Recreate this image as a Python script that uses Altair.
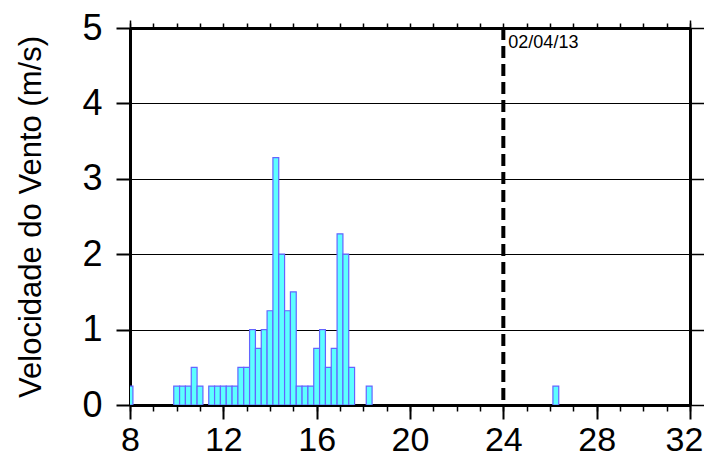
import altair as alt
import pandas as pd

# ---- data ----
hours = [8.0, 10.0, 10.25, 10.5, 10.75, 11.0, 11.5, 11.75, 12.0, 12.25, 12.5,
         12.75, 13.0, 13.25, 13.5, 13.75, 14.0, 14.25, 14.5, 14.75, 15.0,
         15.25, 15.5, 15.75, 16.0, 16.25, 16.5, 16.75, 17.0, 17.25, 17.5,
         18.25, 26.25]
speeds = [0.25, 0.25, 0.25, 0.25, 0.5, 0.25, 0.25, 0.25, 0.25, 0.25, 0.25,
          0.5, 0.5, 1.0, 0.75, 1.0, 1.25, 3.28, 2.0, 1.25, 1.5,
          0.25, 0.25, 0.25, 0.75, 1.0, 0.5, 0.75, 2.27, 2.0, 0.5,
          0.25, 0.25]
event_hour = [24]
event_top = [5]
event_label = ["02/04/13"]
x_major = [8, 12, 16, 20, 24, 28, 32]
x_minor = list(range(8, 33))
x_ends = [8, 32]
y_ticks = [0, 1, 2, 3, 4, 5]
y_title = "Velocidade do Vento (m/s)"

FONT = "Liberation Sans"
df = pd.DataFrame({"hora": hours, "vel": speeds})
ev = pd.DataFrame({"hora": event_hour, "top": event_top, "label": event_label})
minor_df = pd.DataFrame({"hora": x_minor})
yt_df = pd.DataFrame({"vel": y_ticks})

xs = alt.Scale(domain=[8, 32], nice=False, zero=False)
ys = alt.Scale(domain=[0, 5], nice=False)

FRAME = dict(domain=True, domainColor="black", domainWidth=3)

bars = alt.Chart(df).transform_calculate(
    x0="datum.hora - 0.125", x1="datum.hora + 0.125", base="0"
).mark_bar(fill="#5cffff", stroke="#6464ff", strokeWidth=1.2, clip=True).encode(
    x=alt.X("x0:Q", scale=xs, axis=alt.Axis(
        orient="bottom", values=x_major, tickSize=14, tickWidth=2, tickColor="black",
        grid=False, title=None, labelFont=FONT, labelFontSize=34,
        labelColor="black", labelPadding=4, labelFlush=False,
        labelOffset={"condition": {"test": "datum.value >= 32", "value": -6}, "value": 0},
        **FRAME)),
    x2="x1:Q",
    y=alt.Y("vel:Q", scale=ys, axis=alt.Axis(
        orient="left", values=y_ticks, tickSize=14, tickWidth=2, tickColor="black",
        grid=True, gridColor="black", gridWidth=1, gridOpacity=1,
        labelFont=FONT, labelFontSize=36, labelColor="black", labelPadding=14,
        labelFlush=False, title=y_title, titleFont=FONT, titleFontSize=31,
        titleFontWeight="normal", titleColor="black", titlePadding=34, **FRAME)),
    y2="base:Q",
)

minor_bottom = alt.Chart(minor_df).mark_point(opacity=0).encode(
    x=alt.X("hora:Q", scale=xs, axis=alt.Axis(
        orient="bottom", values=x_minor, tickSize=6, tickWidth=1.5, tickColor="black",
        labels=False, domain=False, grid=False, title=None)),
)

minor_top = alt.Chart(minor_df).mark_point(opacity=0).encode(
    x=alt.X("hora:Q", scale=xs, axis=alt.Axis(
        orient="top", values=x_minor, tickSize=5, tickWidth=1.5, tickColor="black",
        labels=False, grid=False, title=None, **FRAME)),
)

ends_top = alt.Chart(minor_df).mark_point(opacity=0).encode(
    x=alt.X("hora:Q", scale=xs, axis=alt.Axis(
        orient="top", values=x_ends, tickSize=8, tickWidth=1.5, tickColor="black",
        labels=False, domain=False, grid=False, title=None)),
)

right_y = alt.Chart(yt_df).mark_point(opacity=0).encode(
    y=alt.Y("vel:Q", scale=ys, axis=alt.Axis(
        orient="right", values=y_ticks, tickSize=14, tickWidth=1.5, tickColor="black",
        labels=False, grid=False, title=None, **FRAME)),
)

event_rule = alt.Chart(ev).mark_rule(color="black", strokeWidth=4, strokeDash=[12, 6]).encode(
    x=alt.X("hora:Q", scale=xs, axis=None),
)

event_text = alt.Chart(ev).mark_text(
    align="left", baseline="top", dx=5, dy=6, font=FONT, fontSize=18, color="black"
).encode(
    x=alt.X("hora:Q", scale=xs, axis=None),
    y=alt.Y("top:Q", scale=ys, axis=None),
    text="label:N",
)

chart = alt.layer(
    bars, minor_bottom, minor_top, ends_top, right_y, event_rule, event_text
).resolve_axis(x="independent", y="independent").properties(
    width=560, height=377,
    autosize=alt.AutoSizeParams(type="none"),
    padding={"left": 122, "top": 20, "right": 14, "bottom": 53},
).configure_view(stroke=None).configure(background="white")

chart.save("out.html", embed_options={"renderer": "svg", "actions": False})
